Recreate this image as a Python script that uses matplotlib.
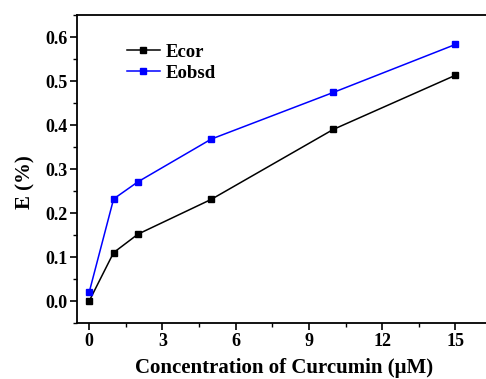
import matplotlib
matplotlib.use('Agg')
import matplotlib.pyplot as plt
from matplotlib.ticker import MultipleLocator

# data
conc = [0, 1, 2, 5, 10, 15]
e_cor = [0.0, 0.110, 0.152, 0.231, 0.390, 0.513]
e_obsd = [0.020, 0.232, 0.271, 0.368, 0.474, 0.583]

plt.rcParams['font.family'] = ['Liberation Serif', 'DejaVu Serif']
plt.rcParams['font.weight'] = 'bold'

W, H = 486, 379
fig = plt.figure(figsize=(W / 100, H / 100), dpi=100)
# axes box in pixels: left 77, top 15, bottom 323; right runs past the image edge
left, top, bottom, right = 77, 15, 323, 492
ax = fig.add_axes([left / W, 1 - bottom / H, (right - left) / W, (bottom - top) / H])

ax.plot(conc, e_cor, color='black', marker='s', markersize=4.6, linewidth=1.1, label='Ecor')
ax.plot(conc, e_obsd, color='#0000ff', marker='s', markersize=4.6, linewidth=1.1, label='Eobsd')

ax.set_xlim(-0.5, 16.5)
ax.set_ylim(-0.05, 0.65)
ax.xaxis.set_major_locator(MultipleLocator(3))
ax.xaxis.set_minor_locator(MultipleLocator(1.5))
ax.yaxis.set_major_locator(MultipleLocator(0.1))
ax.yaxis.set_minor_locator(MultipleLocator(0.05))
ax.yaxis.set_major_formatter(plt.FormatStrFormatter('%.1f'))

ax.tick_params(which='major', direction='out', length=5, width=1.2, labelsize=13, pad=2)
ax.tick_params(which='minor', direction='out', length=3, width=1.0)
ax.tick_params(top=False, right=False)
for s in ax.spines.values():
    s.set_linewidth(1.3)

ax.set_xlabel('Concentration of Curcumin (μM)', fontsize=15, fontweight='bold', labelpad=6)
ax.set_ylabel('E (%)', fontsize=15, fontweight='bold')
ax.yaxis.set_label_coords(-0.099, 0.458)

ax.legend(loc='upper left', bbox_to_anchor=(0.08, 0.962), frameon=False,
          prop={'family': 'Liberation Serif', 'weight': 'bold', 'size': 13.5},
          handlelength=1.75, handletextpad=0.3, labelspacing=0.2)

fig.savefig('out.png', dpi=100)
